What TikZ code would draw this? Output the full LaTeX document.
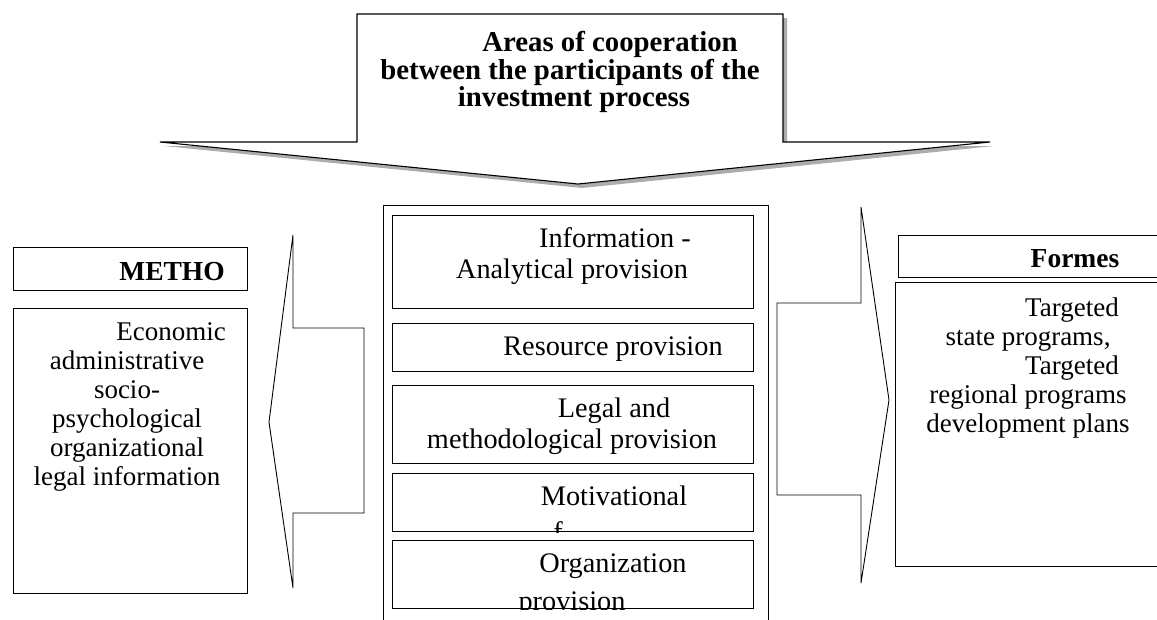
\documentclass[tikz,border=0pt]{standalone}
\usepackage{fontspec}
\setmainfont{Liberation Serif}
\usetikzlibrary{calc}

\tikzset{
  box/.style={draw, line width=1pt, anchor=north west, inner sep=0pt},
  txt/.style={align=center, inner sep=0pt, font=\fontsize{28.3}{31}\selectfont},
  bold/.style={inner sep=0pt, font=\bfseries\fontsize{27.5}{30}\selectfont},
  blockarrow/.style={draw, line width=0.9pt, fill=white}
}

\begin{document}
\begin{tikzpicture}[x=1pt,y=-1pt]
\useasboundingbox (0,0) rectangle (1157,619);
\clip (0,0) rectangle (1157,619);
%top callout
\fill[gray!65, shift={(4,4)}] (357,14) -- (783,14) -- (783,142) -- (990,142) -- (578,184) -- (160,142) -- (357,142) -- cycle;
\draw[line width=1.1pt, fill=white] (357,14) -- (783,14) -- (783,142) -- (990,142) -- (578,184) -- (160,142) -- (357,142) -- cycle;
\node[txt, font=\bfseries\fontsize{28.8}{27.5}\selectfont] (areas) at (570,72)
  {\hspace*{80pt}Areas of cooperation\\between the participants of the\\\hspace*{8pt}investment process};

%left: methods
\node[box, minimum width=234, minimum height=43] (methobox) at (13,247) {};
\node[bold] (metho) at (172,272) {METHO};
\node[box, minimum width=234, minimum height=285] (methodsbox) at (13,308) {};
\node[txt, font=\fontsize{27}{29}\selectfont] (methods) at (127,407)
  {\hspace*{88pt}Economic\\administrative\\socio-\\psychological\\organizational\\legal information};
\draw[blockarrow] (269,422) -- (293,235) -- (293,328) -- (364,328) -- (364,513) -- (293,513) -- (293,588) -- cycle;

%middle: provisions
\node[box, minimum width=385, minimum height=430] (frame) at (383,205) {};
\foreach \t/\b [count=\i] in {215/308,323/371,385/463,473/531,540/608}
  \node[box, minimum width=361, minimum height={\b-\t}] (prov\i) at (392,\t) {};
\node[txt] (info) at (572,256) {\hspace*{86pt}Information -\\Analytical provision};
\node[txt] (resource) at (613,349.5) {Resource provision};
\node[txt] (legal) at (572,426) {\hspace*{84pt}Legal and\\methodological provision};
\node[txt] (motiv) at (614,496) {Motivational};
\begin{scope}
  \clip (prov4.north west) rectangle (prov4.south east);
  \node[txt, anchor=base] (frag) at (558,541) {f};
\end{scope}
\begin{scope}
  \clip (prov5.north west) rectangle (prov5.south east);
  \node[txt] (organ) at (572,585.5) {\hspace*{82pt}Organization\\[7pt]provision};
\end{scope}

%right: forms
\draw[blockarrow] (889,400) -- (861,207) -- (861,303) -- (777,303) -- (777,495) -- (861,495) -- (861,583) -- cycle;
\node[box, minimum width=270, minimum height=42] (formesbox) at (898,235) {};
\node[bold] (formes) at (1075,258.5) {Formes};
\node[box, minimum width=270, minimum height=284] (formsbox) at (895,282) {};
\node[txt, font=\fontsize{27}{29}\selectfont] (forms) at (1028,368)
  {\hspace*{88pt}Targeted\\state programs,\\\hspace*{88pt}Targeted\\regional programs\\development plans};
\end{tikzpicture}
\end{document}
